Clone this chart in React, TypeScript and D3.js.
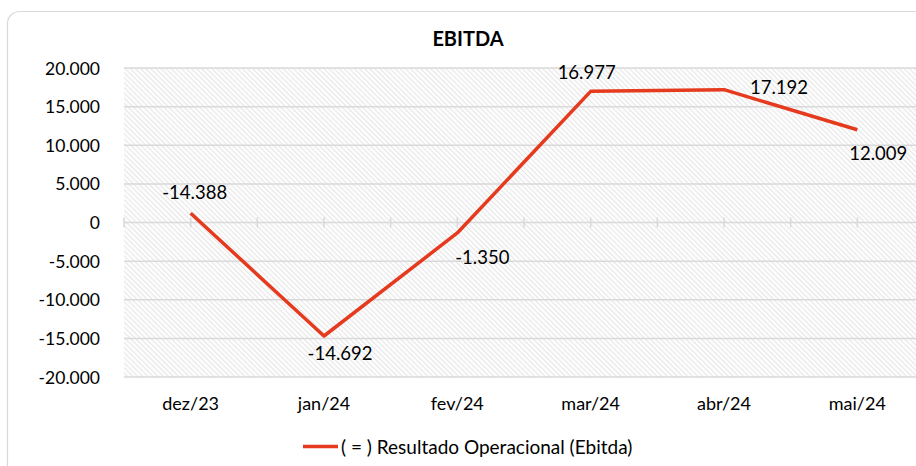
import React from "react";
import * as d3 from "d3";

const categories = ["dez/23", "jan/24", "fev/24", "mar/24", "abr/24", "mai/24"];
const values = [1200, -14692, -1350, 16977, 17192, 12009];
const labels = ["-14.388", "-14.692", "-1.350", "16.977", "17.192", "12.009"];
const yTicks = [20000, 15000, 10000, 5000, 0, -5000, -10000, -15000, -20000];
const seriesName = "( = ) Resultado Operacional (Ebitda)";
const title = "EBITDA";

// label offsets relative to point (layout only)
const labelOffsets: [number, number][] = [
  [4, -21],
  [16, 17],
  [25, 24],
  [-4, -19],
  [55, -3],
  [21, 23],
];

const W = 916;
const H = 466;
const FONT = "Lato, 'Open Sans', sans-serif";
const RED = "#e63a1e";
const GRID = "#d9d9d9";

export default function App() {
  const left = 124;
  const bandW = 133.33;
  const x = d3
    .scaleBand<string>()
    .domain(categories)
    .range([left, left + bandW * categories.length]);
  const y = d3.scaleLinear().domain([-20000, 20000]).range([377, 68]);
  const fmt = (v: number) =>
    d3.format(",")(v).replace(/,/g, ".").replace(/\u2212/g, "-");
  const cx = (c: string) => (x(c) as number) + x.bandwidth() / 2;
  const line = d3
    .line<number>()
    .x((_, i) => cx(categories[i]))
    .y((d) => y(d));

  const tickXs: number[] = [];
  for (let i = 0; i <= categories.length * 2; i++) {
    tickXs.push(left + (i * x.bandwidth()) / 2);
  }

  return (
    <svg
      width={W}
      height={H}
      style={{ position: "fixed", left: 0, top: 0, background: "#fff" }}
      fontFamily={FONT}
    >
      <defs>
        <pattern
          id="hatch"
          width={3.6}
          height={3.6}
          patternUnits="userSpaceOnUse"
          patternTransform="rotate(-45)"
        >
          <rect width={3.6} height={3.6} fill="#fcfcfc" />
          <line x1={0} y1={0} x2={0} y2={3.6} stroke="#dadada" strokeWidth={1.2} />
        </pattern>
      </defs>
      <rect
        x={7.5}
        y={11.5}
        width={W + 20}
        height={H + 20}
        rx={12}
        fill="#fff"
        stroke="#d9d9d9"
        strokeWidth={1.2}
      />
      <text
        x={468}
        y={38}
        textAnchor="middle"
        dominantBaseline="central"
        fontWeight="bold"
        fontSize={20}
        fill="#000"
      >
        {title}
      </text>
      <rect x={left} y={y(20000)} width={W - left} height={y(-20000) - y(20000)} fill="url(#hatch)" />
      {yTicks.map((t) => (
        <g key={t}>
          <line x1={left} x2={W} y1={y(t)} y2={y(t)} stroke={GRID} strokeWidth={1.5} />
          <text
            x={100}
            y={y(t)}
            textAnchor="end"
            dominantBaseline="central"
            fontSize={17.5}
            fill="#000"
          >
            {fmt(t)}
          </text>
        </g>
      ))}
      {tickXs.map((tx, i) => (
        <line key={i} x1={tx} x2={tx} y1={y(0) - 5} y2={y(0) + 5} stroke={GRID} strokeWidth={1.5} />
      ))}
      <path d={line(values) || ""} fill="none" stroke={RED} strokeWidth={3.5} strokeLinejoin="round" />
      {categories.map((c, i) => (
        <text
          key={c}
          x={cx(c) + labelOffsets[i][0]}
          y={y(values[i]) + labelOffsets[i][1]}
          textAnchor="middle"
          dominantBaseline="central"
          fontSize={18.5}
          fill="#000"
        >
          {labels[i]}
        </text>
      ))}
      {categories.map((c) => (
        <text
          key={c}
          x={cx(c)}
          y={403}
          textAnchor="middle"
          dominantBaseline="central"
          fontSize={18}
          fill="#000"
        >
          {c}
        </text>
      ))}
      <line x1={303} x2={338} y1={446.5} y2={446.5} stroke={RED} strokeWidth={3.5} />
      <text x={341} y={446.5} dominantBaseline="central" fontSize={19} fill="#000">
        {seriesName}
      </text>
    </svg>
  );
}
